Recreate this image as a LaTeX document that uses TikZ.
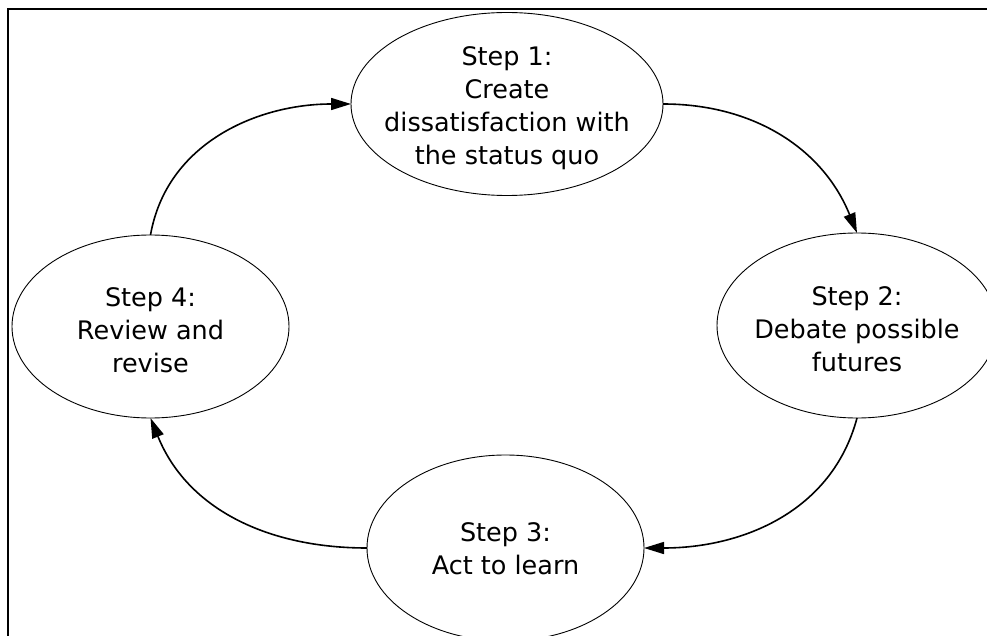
\documentclass[tikz,border=0pt]{standalone}
\usepackage{fontspec}
\setmainfont{DejaVu Sans}
\usetikzlibrary{shapes.geometric,arrows.meta}
\begin{document}
\begin{tikzpicture}[x=1pt,y=-1pt,
  stepbox/.style={draw, ellipse, line width=0.9pt, inner sep=0pt, outer sep=0pt},
  steptext/.style={align=center, inner sep=0pt, font=\fontsize{25.5}{33}\selectfont},
  flow/.style={line width=1.6pt, -{Triangle[length=20pt,width=12pt]}}]
  \useasboundingbox (0,0) rectangle (987,636);
  \clip (0,0) rectangle (987,636);
  % outer frame
  \draw[line width=2.5pt] (8,9) rectangle (1000,660);
  % the four stages
  \node[stepbox, minimum width=312pt, minimum height=183pt] (e1) at (507,104) {};
  \node[stepbox, minimum width=280pt, minimum height=185pt] (e2) at (857,325.5) {};
  \node[stepbox, minimum width=277pt, minimum height=186pt] (e3) at (505.5,548) {};
  \node[stepbox, minimum width=277pt, minimum height=183pt] (e4) at (150.5,326.5) {};
  \node[steptext] (t1) at (507,108) {Step 1:\\Create\\dissatisfaction with\\the status quo};
  \node[steptext] (t2) at (857,329) {Step 2:\\Debate possible\\futures};
  \node[steptext] (t3) at (505.5,549) {Step 3:\\Act to learn};
  \node[steptext] (t4) at (150.5,330) {Step 4:\\Review and\\revise};
  % cycle connectors
  \draw[flow] (e1.east) to[out=0,in=112] (e2.north);
  \draw[flow] (e2.south) to[out=-105,in=0] (e3.east);
  \draw[flow] (e3.west) to[out=180,in=-68] (e4.south);
  \draw[flow] (e4.north) to[out=80,in=180] (e1.west);
\end{tikzpicture}
\end{document}
